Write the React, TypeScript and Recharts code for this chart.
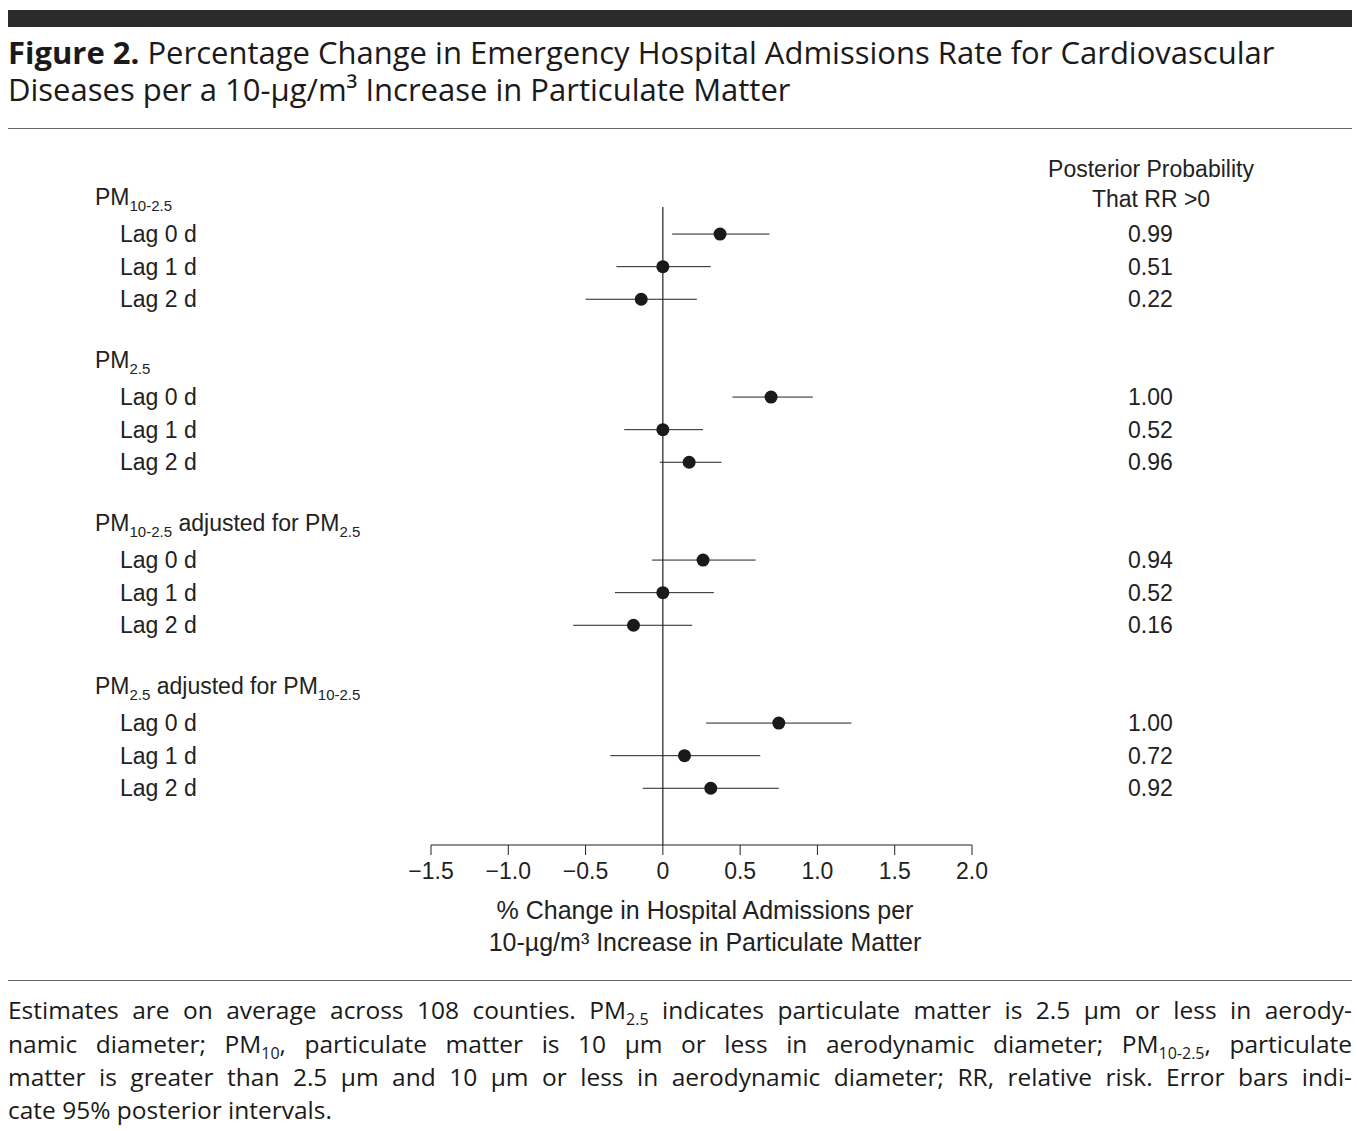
import React from 'react'
import { ScatterChart, Scatter, XAxis, YAxis, ErrorBar, ReferenceLine } from 'recharts'

const groups = ['PM10-2.5', 'PM2.5', 'PM10-2.5 adjusted for PM2.5', 'PM2.5 adjusted for PM10-2.5']
const lags = ['Lag 0 d', 'Lag 1 d', 'Lag 2 d']
const estimates = [0.37, 0.0, -0.14, 0.7, 0.0, 0.17, 0.26, 0.0, -0.19, 0.75, 0.14, 0.31]
const lower = [0.06, -0.3, -0.5, 0.45, -0.25, -0.02, -0.07, -0.31, -0.58, 0.28, -0.34, -0.13]
const upper = [0.69, 0.31, 0.22, 0.97, 0.26, 0.38, 0.6, 0.33, 0.19, 1.22, 0.63, 0.75]
const probs = ['0.99', '0.51', '0.22', '1.00', '0.52', '0.96', '0.94', '0.52', '0.16', '1.00', '0.72', '0.92']
const xTicks = [-1.5, -1.0, -0.5, 0, 0.5, 1.0, 1.5, 2.0]

const data = estimates.map((v, i) => ({
  x: v,
  y: Math.floor(i / 3) * 5 + (i % 3),
  err: [v - lower[i], upper[i] - v],
}))

const rowY = (r: number) => 234 + r * 32.6
const font = '"Liberation Sans", Arial, sans-serif'
const serifish = '"Open Sans", "Noto Sans", sans-serif'

const fmt = (v: number) => (v === 0 ? '0' : (v < 0 ? '\u2212' : '') + Math.abs(v).toFixed(1))

const sub = { fontSize: 15, lineHeight: 0 }
const fsub = { fontSize: 16, lineHeight: 0 }

function Header({ g }: { g: number }) {
  const parts = [
    <span>PM<sub style={sub}>10-2.5</sub></span>,
    <span>PM<sub style={sub}>2.5</sub></span>,
    <span>PM<sub style={sub}>10-2.5</sub> adjusted for PM<sub style={sub}>2.5</sub></span>,
    <span>PM<sub style={sub}>2.5</sub> adjusted for PM<sub style={sub}>10-2.5</sub></span>,
  ]
  return parts[g]
}

const abs = (x: number, y: number, extra: React.CSSProperties = {}): React.CSSProperties => ({
  position: 'absolute', left: x, top: y, whiteSpace: 'nowrap', lineHeight: 1, ...extra,
})

const footLine = (top: number, last = false): React.CSSProperties => ({
  position: 'absolute', left: 8, top, width: last ? 'auto' : 1344, fontFamily: serifish, fontSize: 24.5,
  lineHeight: 1, whiteSpace: 'nowrap', textAlign: 'justify', textAlignLast: last ? 'left' : 'justify', color: '#1a1a1a',
})

export default function App() {
  return (
    <div style={{ position: 'absolute', left: 0, top: 0, width: 1357, height: 1131, background: '#fff', color: '#222', fontFamily: font }}>
      <div style={{ position: 'absolute', left: 8, top: 10, width: 1344, height: 17, background: '#2b2b2b' }} />
      <div style={abs(8, 34, { fontFamily: serifish, fontSize: 31, color: '#1a1a1a', lineHeight: '37px' })}>
        <b>Figure 2.</b> Percentage Change in Emergency Hospital Admissions Rate for Cardiovascular<br />
        Diseases per a 10-µg/m³ Increase in Particulate Matter
      </div>
      <div style={{ position: 'absolute', left: 8, top: 128, width: 1344, height: 1, background: '#666' }} />

      <div style={abs(1151, 154, { fontSize: 23, transform: 'translateX(-50%)', textAlign: 'center', lineHeight: '30px' })}>
        Posterior Probability<br />That RR &gt;0
      </div>

      {groups.map((_, g) => (
        <div key={'h' + g} style={abs(95, rowY(g * 5) - 48, { fontSize: 23 })}><Header g={g} /></div>
      ))}
      {estimates.map((_, i) => {
        const r = Math.floor(i / 3) * 5 + (i % 3)
        return (
          <React.Fragment key={'r' + i}>
            <div style={abs(120, rowY(r) - 11, { fontSize: 23 })}>{lags[i % 3]}</div>
            <div style={abs(1128, rowY(r) - 11, { fontSize: 23 })}>{probs[i]}</div>
          </React.Fragment>
        )
      })}

      <div style={{ position: 'absolute', left: 0, top: 0 }}>
        <ScatterChart width={1357} height={1131} margin={{ top: 207, left: 431, right: 385, bottom: 246 }}>
          <XAxis type="number" dataKey="x" domain={[-1.5, 2.0]} ticks={xTicks} tickFormatter={fmt}
            tickSize={10} tickMargin={8} axisLine={{ stroke: '#222' }} tickLine={{ stroke: '#222' }}
            tick={{ fill: '#222', fontSize: 23, fontFamily: font }} height={40} />
          <YAxis type="number" dataKey="y" domain={[-0.83, 18.74]} reversed hide width={0} />
          <ReferenceLine x={0} stroke="#222" strokeWidth={1.2} ifOverflow="extendDomain" />
          <Scatter data={data} fill="#1a1a1a" isAnimationActive={false}
            shape={(p: any) => <circle cx={p.cx} cy={p.cy} r={6.5} fill="#1a1a1a" />}>
            <ErrorBar dataKey="err" direction="x" width={0} stroke="#222" strokeWidth={1} />
          </Scatter>
        </ScatterChart>
      </div>

      <div style={abs(705, 894, { fontSize: 25, transform: 'translateX(-50%)', textAlign: 'center', lineHeight: '32px' })}>
        % Change in Hospital Admissions per<br />10-µg/m³ Increase in Particulate Matter
      </div>

      <div style={{ position: 'absolute', left: 8, top: 980, width: 1344, height: 1, background: '#666' }} />
      <div style={footLine(998)}>
        Estimates are on average across 108 counties. PM<sub style={fsub}>2.5</sub> indicates particulate matter is 2.5 µm or less in aerody-
      </div>
      <div style={footLine(1032)}>
        namic diameter; PM<sub style={fsub}>10</sub>, particulate matter is 10 µm or less in aerodynamic diameter; PM<sub style={fsub}>10-2.5</sub>, particulate
      </div>
      <div style={footLine(1065)}>
        matter is greater than 2.5 µm and 10 µm or less in aerodynamic diameter; RR, relative risk. Error bars indi-
      </div>
      <div style={footLine(1098, true)}>cate 95% posterior intervals.</div>
    </div>
  )
}
